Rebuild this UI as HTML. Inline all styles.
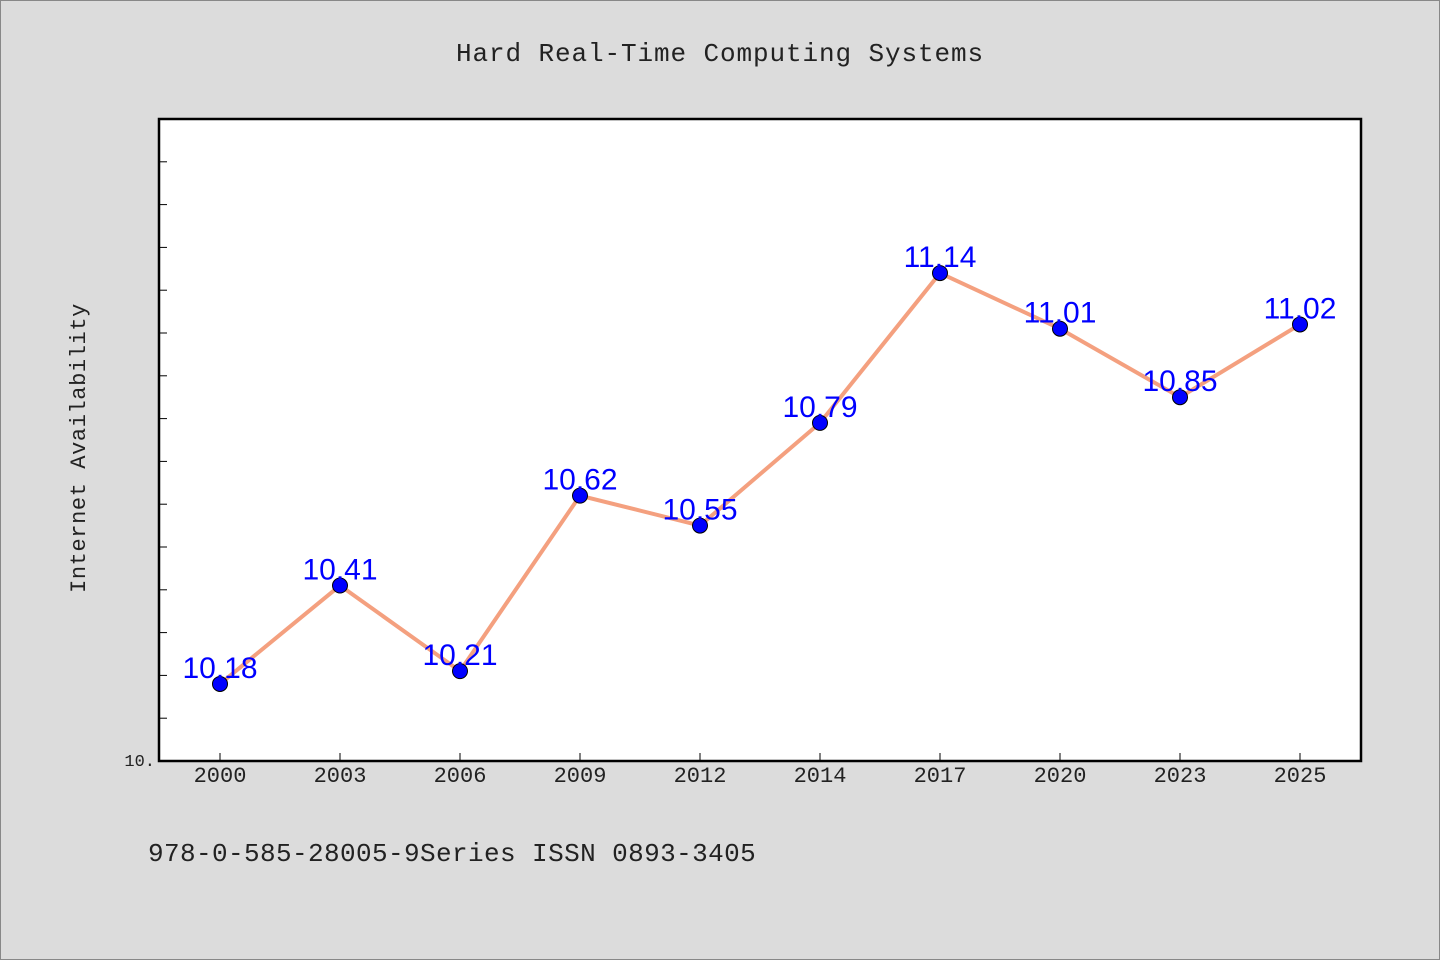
<!DOCTYPE html>
<html><head><meta charset="utf-8"><style>
body{margin:0;background:#dcdcdc;}
svg{display:block;font-family:"Liberation Mono","DejaVu Sans Mono",monospace;}
</style></head><body>
<svg id="c" width="1440" height="960">
<rect x="0.5" y="0.5" width="1439" height="959" fill="#dcdcdc" stroke="#888"/>
<text x="720" y="61" text-anchor="middle" font-size="26" letter-spacing="0.9" fill="#222">Hard Real-Time Computing Systems</text>
<rect x="159" y="119" width="1202" height="642" fill="#fff" stroke="#000" stroke-width="2.5"/>
<text x="85" y="448" text-anchor="middle" font-size="22" fill="#222" transform="rotate(-90 85 448)" letter-spacing="0.6">Internet Availability</text>
<text x="148" y="861" font-size="26" letter-spacing="0.4" fill="#222">978-0-585-28005-9Series ISSN 0893-3405</text>
<g id="ticks"></g><g id="marks"></g>
</svg>
<script>
const categories=["2000","2003","2006","2009","2012","2014","2017","2020","2023","2025"];
const values=[10.18,10.41,10.21,10.62,10.55,10.79,11.14,11.01,10.85,11.02];
const valueLabels=["10.18","10.41","10.21","10.62","10.55","10.79","11.14","11.01","10.85","11.02"];
const yMin=10,yMax=11.5,yTickStep=0.1;
const L=159,R=1361,T=119,B=761;
const NS="http://www.w3.org/2000/svg";
const y=v=>B-(v-yMin)/(yMax-yMin)*(B-T);
const x=i=>220+i*120;
function mk(tag,attrs,parent,txt){const e=document.createElementNS(NS,tag);for(const k in attrs)e.setAttribute(k,attrs[k]);if(txt!=null)e.textContent=txt;parent.appendChild(e);return e;}
const tk=document.getElementById('ticks'),mg=document.getElementById('marks');
for(let v=yMin+yTickStep;v<yMax-1e-9;v+=yTickStep){
  const t=mk('line',{x1:L,x2:L+8,y1:y(v),y2:y(v),stroke:'#000','stroke-width':1},tk);
  
  
}
const yl=mk('text',{x:155,y:766,'text-anchor':'end','font-size':17,fill:'#222'},tk,'10.');


categories.forEach((c,i)=>{
  const t=mk('line',{x1:x(i),x2:x(i),y1:B,y2:B-8,stroke:'#000','stroke-width':1},tk);
  
  
  const l=mk('text',{x:x(i),y:782,'text-anchor':'middle','font-size':22,fill:'#222'},tk,c);
  
  
});
const line=mk('polyline',{points:values.map((v,i)=>x(i)+','+y(v)).join(' '),fill:'none',stroke:'#f4a07f','stroke-width':4},mg);


values.forEach((v,i)=>{
  const p=mk('circle',{cx:x(i),cy:y(v),r:7.5,fill:'#0000ff',stroke:'#000','stroke-width':1},mg);
  
  
  const l=mk('text',{x:x(i),y:y(v)-6,'text-anchor':'middle','font-size':30,'font-family':'Liberation Sans, sans-serif',fill:'#0000ff'},mg,valueLabels[i]);
  
  
});
</script>
</body></html>
